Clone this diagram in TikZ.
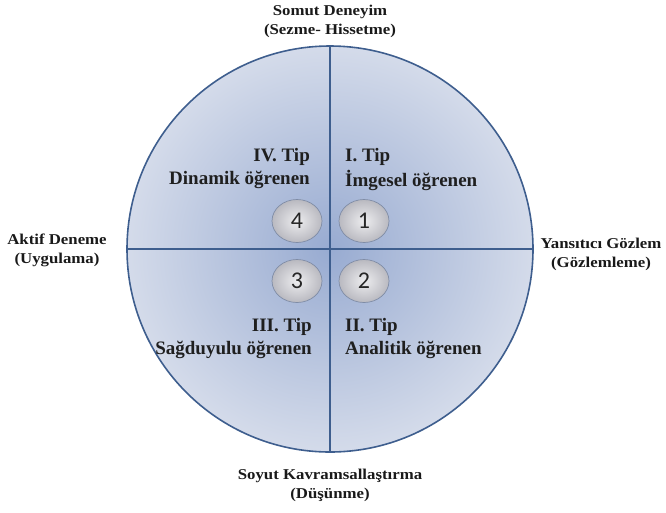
\documentclass[tikz,border=0pt]{standalone}
\usetikzlibrary{shapes.geometric}
\usepackage{fontspec}
\setmainfont{Liberation Serif}
\newfontfamily\outerfont[FakeStretch=1.12]{Liberation Serif}
\newfontfamily\numfont{Carlito}
\begin{document}
\begin{tikzpicture}[x=1pt,y=-1pt,
  outerlbl/.style={font=\outerfont\bfseries\fontsize{15}{19}\selectfont,align=center,text=black!90},
  innerlbl/.style={font=\bfseries\fontsize{19}{23}\selectfont,text=black!88,inner sep=0pt},
  numel/.style={ellipse,minimum width=50pt,minimum height=43pt,inner sep=0pt,draw=elb,line width=0.7pt,
     inner color=eli,outer color=elo,font=\numfont\fontsize{24}{24}\selectfont,text=black!85}]
\useasboundingbox (0,0) rectangle (666,512);
\definecolor{ring}{HTML}{3E5E8E}
\definecolor{cin}{HTML}{98ABD1}
\definecolor{cout}{HTML}{D4DBEA}
\definecolor{eli}{HTML}{EDEDEF}
\definecolor{elo}{HTML}{B9B9C0}
\definecolor{elb}{HTML}{7F8CA6}
\coordinate (c) at (330,249);
\shade[inner color=cin,outer color=cout] (c) circle (203);
\draw[ring,line width=1.6pt] (c) circle (203);
\coordinate (t) at (330,46);
\coordinate (b) at (330,452);
\coordinate (l) at (127,249);
\coordinate (r) at (533,249);
\draw[ring,line width=1.6pt] (t) -- (b);
\draw[ring,line width=1.6pt] (l) -- (r);
\node[numel] (n4) at (297,221) {4};
\node[numel] (n1) at (364,221) {1};
\node[numel] (n3) at (297,281) {3};
\node[numel] (n2) at (364,281) {2};
\node[innerlbl,anchor=east] (t4a) at (310,157) {IV. Tip};
\node[innerlbl,anchor=east] (t4b) at (310,180) {Dinamik öğrenen};
\node[innerlbl,anchor=west] (t1a) at (345,157) {I. Tip};
\node[innerlbl,anchor=west] (t1b) at (345,180) {İmgesel öğrenen};
\node[innerlbl,anchor=east] (t3a) at (312,327) {III. Tip};
\node[innerlbl,anchor=east] (t3b) at (312,350) {Sağduyulu öğrenen};
\node[innerlbl,anchor=west] (t2a) at (345,327) {II. Tip};
\node[innerlbl,anchor=west] (t2b) at (345,350) {Analitik öğrenen};
\node[outerlbl] (top) at (330,21) {Somut Deneyim\\(Sezme- Hissetme)};
\node[outerlbl] (left) at (57,250) {Aktif Deneme\\(Uygulama)};
\node[outerlbl] (right) at (601,254) {Yansıtıcı Gözlem\\(Gözlemleme)};
\node[outerlbl] (bottom) at (330,485) {Soyut Kavramsallaştırma\\(Düşünme)};
\end{tikzpicture}
\end{document}
